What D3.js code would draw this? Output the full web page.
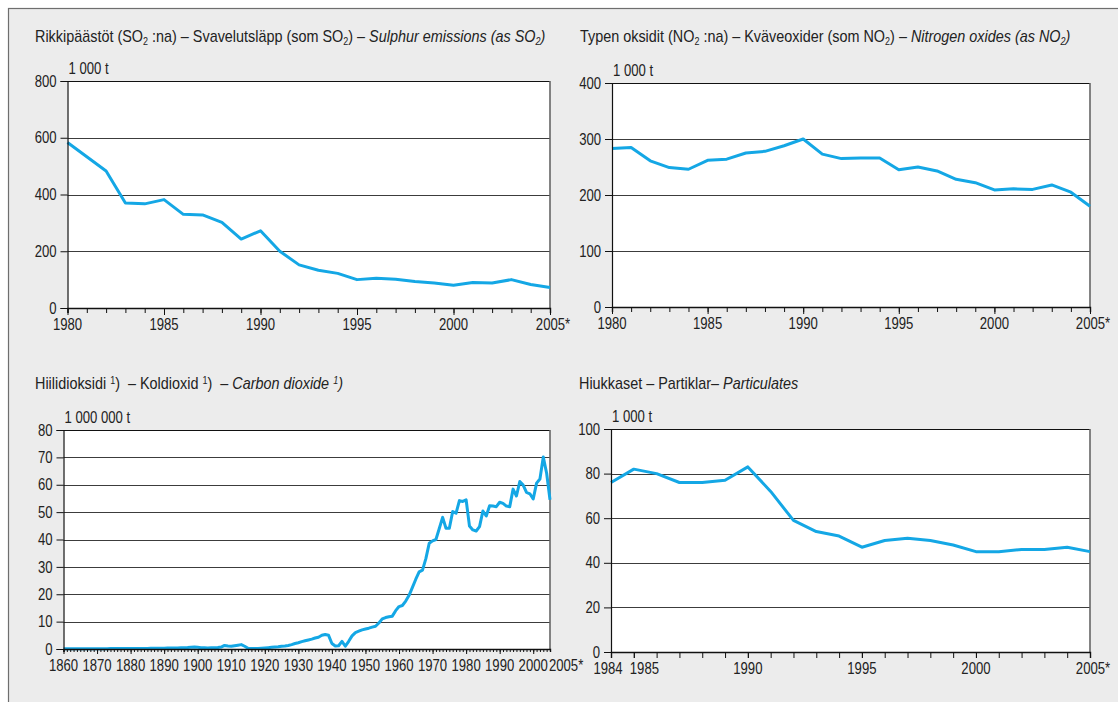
<!DOCTYPE html>
<html><head><meta charset="utf-8">
<script src="https://cdn.jsdelivr.net/npm/d3@7"></script>
<style>
html,body{margin:0;padding:0;background:#fff;}
svg text{font-family:'Liberation Sans',Arial,sans-serif;fill:#222;}
svg text.ttl{white-space:pre;}
</style></head>
<body>
<svg id="c" width="1118" height="702"></svg>
<script>
// ---------- DATA ----------
const so2Years = d3.range(1980, 2006);
const so2Values = [583,533,483,370,367,382,330,328,302,243,272,200,152,133,122,100,105,101,93,88,80,90,88,100,83,72];

const no2Years = d3.range(1980, 2006);
const no2Values = [283,285,261,249,246,262,264,275,278,288,300,273,265,266,266,245,250,243,228,222,209,211,210,218,205,180];

const co2Years = d3.range(1860, 2006);
const co2Values = [
 0.1,0.1,0.1,0.1,0.1,0.1,0.1,0.1,0.1,0.1,        // 1860-1869
 0.12,0.12,0.13,0.13,0.14,0.14,0.15,0.15,0.16,0.16, // 1870-1879
 0.18,0.18,0.2,0.2,0.22,0.22,0.24,0.25,0.26,0.28, // 1880-1889
 0.3,0.32,0.34,0.36,0.4,0.45,0.5,0.55,0.65,0.7,   // 1890-1899
 0.6,0.5,0.45,0.4,0.45,0.5,0.55,0.7,1.3,1.1,      // 1900-1909
 1.0,1.2,1.4,1.6,1.0,0.3,0.2,0.2,0.2,0.3,         // 1910-1919
 0.4,0.5,0.6,0.7,0.8,1.0,1.1,1.3,1.6,2.0,         // 1920-1929
 2.3,2.7,3.0,3.3,3.6,4.0,4.3,5.0,5.3,5.0,         // 1930-1939
 2.0,1.1,1.2,2.8,1.0,2.8,4.8,6.0,6.5,7.0,         // 1940-1949
 7.3,7.6,8.0,8.3,9.5,11,11.5,11.8,12,14,          // 1950-1959
 15.5,15.9,17.5,19.6,22.5,25.5,28.2,28.8,33,38.6, // 1960-1969
 39.5,40,44,48.1,44.1,44.1,50.2,49.6,54.2,53.9,   // 1970-1979
 54.5,44.9,43.5,43.1,44.7,50.4,48.6,52.3,52.2,52, // 1980-1989
 53.6,53.2,52.2,52,58.4,55.9,61.2,59.9,57.2,56.7, // 1990-1999
 54.8,60.6,62.1,70.1,64.2,54.5                    // 2000-2005
];

const pmYears = d3.range(1984, 2006);
const pmValues = [76,82,80,76,76,77,83,72,59,54,52,47,50,51,50,48,45,45,46,46,47,45];

const so2Ticks = [0,200,400,600,800];
const no2Ticks = [0,100,200,300,400];
const co2Ticks = [0,10,20,30,40,50,60,70,80];
const pmTicks = [0,20,40,60,80,100];

const so2XLabels = [1980,1985,1990,1995,2000,2005];
const no2XLabels = [1980,1985,1990,1995,2000,2005];
const co2XLabels = [1860,1870,1880,1890,1900,1910,1920,1930,1940,1950,1960,1970,1980,1990,2000,2005];
const pmXLabels = [1984,1985,1990,1995,2000,2005];

const units = ["1 000 t","1 000 t","1 000 000 t","1 000 t"];

// ---------- DRAW ----------
const svg = d3.select("#c");
const LINE = "#14a7e5";
const FS = 16, K = 0.82;     // axis text size and horizontal condensation
const FT = 16, KT = 0.9;     // title text

svg.append("rect").attr("x",8.5).attr("y",8.5).attr("width",1130).attr("height",720)
  .attr("fill","#ececec").attr("stroke","#6e6e6e").attr("stroke-width",1.2);

function title(x, y, parts){
  const t = svg.append("text").attr("class","ttl").attr("x",x).attr("y",y).attr("font-size",FT);
  parts.forEach(p=>{
    const ts = t.append("tspan").text(p.t);
    if(p.i) ts.attr("font-style","italic");
    if(p.sub) ts.attr("font-size",10).attr("dy",3);
    if(p.sup) ts.attr("font-size",10).attr("dy",-5);
    if(p.back) ts.attr("dy",p.back);
  });
}
title(35, 42, [
 {t:"Rikkipäästöt (SO"},{t:"2",sub:1},{t:" :na) – Svavelutsläpp (som SO",back:-3},{t:"2",sub:1},{t:") – ",back:-3},
 {t:"Sulphur emissions (as SO",i:1},{t:"2",sub:1,i:1},{t:")",i:1,back:-3}
]);
title(580, 42, [
 {t:"Typen oksidit (NO"},{t:"2",sub:1},{t:" :na) – Kväveoxider (som NO",back:-3},{t:"2",sub:1},{t:") – ",back:-3},
 {t:"Nitrogen oxides (as NO",i:1},{t:"2",sub:1,i:1},{t:")",i:1,back:-3}
]);
title(35, 389, [
 {t:"Hiilidioksidi "},{t:"1",sup:1},{t:")  – Koldioxid ",back:5},{t:"1",sup:1},{t:")  – ",back:5},
 {t:"Carbon dioxide ",i:1},{t:"1",sup:1,i:1},{t:")",i:1,back:5}
]);
title(579, 389, [
 {t:"Hiukkaset – Partiklar– "},{t:"Particulates",i:1}
]);

function panel(cfg){
  const x = d3.scaleLinear().domain(cfg.xDomain).range([cfg.left, cfg.right]);
  const y = d3.scaleLinear().domain(cfg.yDomain).range([cfg.bottom, cfg.top]);
  const g = svg.append("g");
  g.append("rect").attr("x",cfg.left).attr("y",cfg.top)
    .attr("width",cfg.right-cfg.left).attr("height",cfg.bottom-cfg.top).attr("fill","#fff");
  g.selectAll(".grid").data(cfg.yTicks.filter(v=>v>cfg.yDomain[0] && v<cfg.yDomain[1])).enter()
    .append("line").attr("x1",cfg.left).attr("x2",cfg.right)
    .attr("y1",d=>Math.round(y(d))+0.5).attr("y2",d=>Math.round(y(d))+0.5)
    .attr("stroke","#3c3c3c").attr("stroke-width",1);
  g.append("line").attr("x1",cfg.left).attr("x2",cfg.right)
    .attr("y1",Math.round(y(cfg.yDomain[1]))+0.5).attr("y2",Math.round(y(cfg.yDomain[1]))+0.5)
    .attr("stroke","#111").attr("stroke-width",1.2);
  g.append("line").attr("x1",cfg.right).attr("x2",cfg.right)
    .attr("y1",cfg.top).attr("y2",cfg.bottom).attr("stroke","#666").attr("stroke-width",1.6);
  g.append("path").datum(cfg.years.map((yr,i)=>[yr,cfg.values[i]]))
    .attr("fill","none").attr("stroke",LINE).attr("stroke-width",3)
    .attr("stroke-linejoin","round")
    .attr("d", d3.line().x(d=>x(d[0])).y(d=>y(d[1])));
  const ya = d3.axisLeft(y).tickValues(cfg.yTicks).tickSize(7).tickPadding(4).tickFormat(d3.format("d"));
  const yg = g.append("g").attr("transform",`translate(${cfg.left},0)`).call(ya);
  yg.select(".domain").attr("stroke","#111").attr("stroke-width",1.2);
  yg.selectAll(".tick line").attr("stroke","#111");
  yg.selectAll("text").attr("font-size",FS).attr("fill","#222");
  const xa = d3.axisBottom(x).tickValues(d3.range(cfg.xDomain[0], cfg.xDomain[1]+1))
    .tickSize(cfg.minorTick).tickFormat("");
  const xg = g.append("g").attr("transform",`translate(0,${cfg.bottom})`).call(xa);
  xg.select(".domain").attr("stroke","#111").attr("stroke-width",1.4);
  xg.selectAll(".tick line").attr("stroke","#111");
  const xm = d3.axisBottom(x).tickValues(cfg.majorTicks).tickSize(cfg.majorTick).tickFormat("");
  const xmg = g.append("g").attr("transform",`translate(0,${cfg.bottom})`).call(xm);
  xmg.select(".domain").remove();
  xmg.selectAll(".tick line").attr("stroke","#111");
  const lab = cfg.labelPos || {};
  g.selectAll(".xl").data(cfg.xLabels).enter().append("text")
    .attr("x",d=>x(d) + (lab[d] ? lab[d][0] : 0))
    .attr("y",cfg.bottom+22)
    .attr("text-anchor",d=>lab[d] ? lab[d][1] : "middle")
    .attr("font-size",FS)
    .text(d=> d===2005 ? "2005*" : String(d));
  g.append("text").attr("x",cfg.left+1).attr("y",cfg.top-7).attr("font-size",FS).text(cfg.unit);
}

panel({left:67.5,right:550,top:81,bottom:308,xDomain:[1980,2005],yDomain:[0,800],
  years:so2Years,values:so2Values,yTicks:so2Ticks,xLabels:so2XLabels,majorTicks:so2XLabels,
  minorTick:5,majorTick:7,labelPos:{2005:[3,"middle"]},unit:units[0]});
panel({left:612,right:1090,top:83,bottom:307,xDomain:[1980,2005],yDomain:[0,400],
  years:no2Years,values:no2Values,yTicks:no2Ticks,xLabels:no2XLabels,majorTicks:no2XLabels,
  minorTick:5,majorTick:7,labelPos:{2005:[3,"middle"]},unit:units[1]});
panel({left:63.5,right:550,top:430,bottom:649,xDomain:[1860,2005],yDomain:[0,80],
  years:co2Years,values:co2Values,yTicks:co2Ticks,xLabels:co2XLabels,majorTicks:co2XLabels.slice(0,-1),
  minorTick:3,majorTick:5,labelPos:{2005:[-1,"start"]},unit:units[2]});
panel({left:611,right:1090,top:429,bottom:652,xDomain:[1984,2005],yDomain:[0,100],
  years:pmYears,values:pmValues,yTicks:pmTicks,xLabels:pmXLabels,majorTicks:pmXLabels,
  minorTick:6,majorTick:6,labelPos:{1984:[-3,"middle"],1985:[-4,"start"],2005:[3,"middle"]},unit:units[3]});

// condense text horizontally around its anchor x
svg.selectAll("text").each(function(){
  const x0 = +(this.getAttribute("x") || 0);
  const k = this.classList.contains("ttl") ? KT : K;
  d3.select(this).attr("transform", `translate(${x0},0) scale(${k},1) translate(${-x0},0)`);
});
</script>
</body></html>
